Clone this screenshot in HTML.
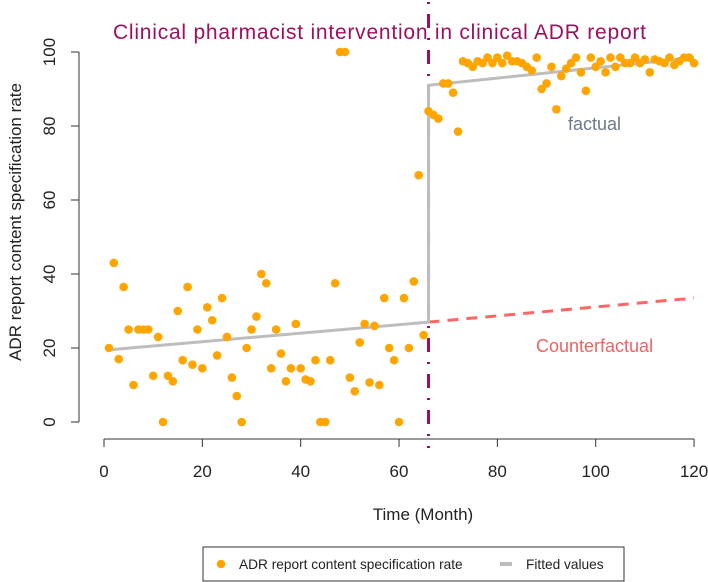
<!DOCTYPE html>
<html><head><meta charset="utf-8"><style>
html,body{margin:0;padding:0;background:#fff;}
svg{display:block;font-family:"Liberation Sans",Arial,sans-serif;}
</style></head><body>
<svg id="chart" width="708" height="582" viewBox="0 0 708 582">
<text x="113" y="39" font-size="21" fill="#9b1060" textLength="533">Clinical pharmacist intervention in clinical ADR report</text>
<g id="axes"></g>
<g id="lines"></g>
<g id="points"></g>
<text x="568" y="130" font-size="18" fill="#6b7a8f">factual</text>
<text x="536" y="352" font-size="18" fill="#f26262">Counterfactual</text>
<text x="423" y="520" font-size="17" fill="#222" text-anchor="middle">Time (Month)</text>
<text transform="translate(21,222) rotate(-90)" font-size="17" fill="#222" text-anchor="middle">ADR report content specification rate</text>
<g>
<rect x="203" y="547" width="421" height="34" fill="#fff" stroke="#333" stroke-width="1"/>
<circle cx="221" cy="564" r="4.3" fill="#ffa500"/>
<text x="239" y="569" font-size="13.7" fill="#222">ADR report content specification rate</text>
<line x1="500" y1="564" x2="512" y2="564" stroke="#bdbdbd" stroke-width="4"/>
<text x="526" y="569" font-size="13.7" fill="#222">Fitted values</text>
</g>
</svg>
<script>
const months = Array.from({length:120},(_,i)=>i+1);
const rates = [20,43,17,36.5,25,10,25,25,25,12.5,23,0,12.5,11,30,16.7,36.5,15.5,25,14.5,31,27.5,18,33.5,23,12,7,0,20,25,28.5,40,37.5,14.5,25,18.5,11,14.5,26.5,14.5,11.5,11,16.7,0,0,16.7,37.5,100,100,12,8.3,21.5,26.5,10.7,26,10,33.5,20,16.7,0,33.5,20,38,66.7,23.5,
84,83,82,91.5,91.5,89,78.5,97.5,97,96,97.5,97,98.5,97,98.5,97,99,97.5,97.5,97,96,95,98.5,90,91.5,96,84.5,93.5,95.5,97,98.5,94.5,89.5,98.5,96,97.5,94.5,98.5,96,98.5,97,97,98.5,97,98,94.5,98,97.5,97,98.5,96.5,97.5,98.5,98.5,97];
const xTicks = [0,20,40,60,80,100,120];
const yTicks = [0,20,40,60,80,100];
const interventionMonth = [66];
const preFit = [[1,19.5],[66,27]];
const postFit = [[66,91],[120,98.5]];
const counterFit = [[66,27],[120,33.5]];

const X = m => 104 + m*4.917;
const Y = v => 422 - v*3.7;
const NS = "http://www.w3.org/2000/svg";
function mk(tag, attrs, parent){const e=document.createElementNS(NS,tag);for(const k in attrs)e.setAttribute(k,attrs[k]);parent.appendChild(e);return e;}
const axes=document.getElementById('axes'), lines=document.getElementById('lines'), pts=document.getElementById('points');

let e=mk('line',{x1:X(0),x2:X(120),y1:439,y2:439,stroke:'#333','stroke-width':1},axes);


xTicks.forEach(t=>{
  let l=mk('line',{x1:X(t),x2:X(t),y1:439,y2:447,stroke:'#333'},axes);
  
  
  let tx=mk('text',{x:X(t),y:477,'font-size':17,fill:'#222','text-anchor':'middle'},axes);tx.textContent=t;
  
  
});
e=mk('line',{x1:79,x2:79,y1:Y(0),y2:Y(100),stroke:'#333'},axes);


yTicks.forEach(t=>{
  let l=mk('line',{x1:71,x2:79,y1:Y(t),y2:Y(t),stroke:'#333'},axes);
  
  
  let tx=mk('text',{transform:`translate(55,${Y(t)}) rotate(-90)`,'font-size':17,fill:'#222','text-anchor':'middle'},axes);tx.textContent=t;
  
  
});
e=mk('line',{x1:X(counterFit[0][0]),y1:Y(counterFit[0][1]),x2:X(counterFit[1][0]),y2:Y(counterFit[1][1]),stroke:'#ff6666','stroke-width':3,'stroke-dasharray':'11,8'},lines);


e=mk('line',{x1:X(interventionMonth[0]),x2:X(interventionMonth[0]),y1:2,y2:448,stroke:'#970f62','stroke-width':3,'stroke-dasharray':'2,10,14,10'},lines);


e=mk('polyline',{points:[preFit[0],preFit[1],postFit[0],postFit[1]].map(p=>X(p[0])+','+Y(p[1])).join(' '),fill:'none',stroke:'#bdbdbd','stroke-width':3},lines);


months.forEach((m,i)=>{
  const c=mk('circle',{cx:X(m),cy:Y(rates[i]),r:4.3,fill:'#ffa500'},pts);
  
  
});
</script>
</body></html>
